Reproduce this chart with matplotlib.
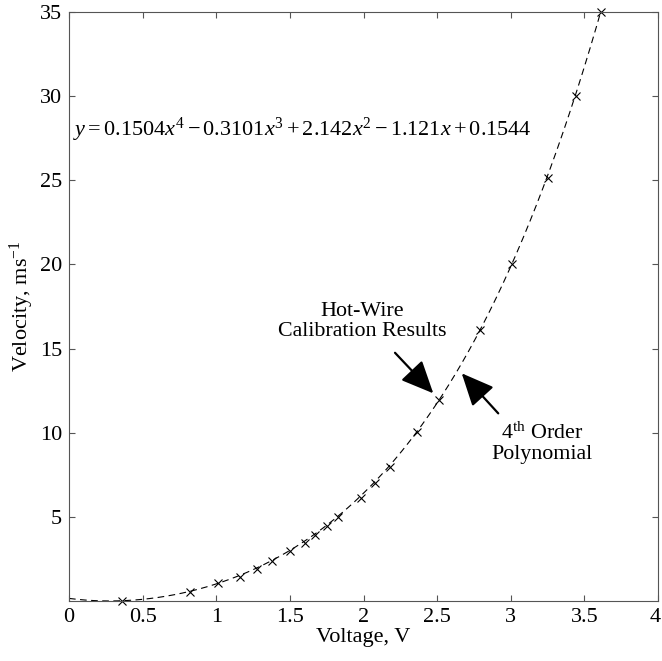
import matplotlib
matplotlib.use('Agg')
from matplotlib import pyplot as plt
from matplotlib.transforms import ScaledTranslation
import numpy as np

plt.rcParams['font.family'] = ['Liberation Serif', 'DejaVu Serif']
plt.rcParams['mathtext.fontset'] = 'custom'
plt.rcParams['mathtext.rm'] = 'Liberation Serif'
plt.rcParams['mathtext.it'] = 'Liberation Serif:italic'

# calibration points
voltage = [0.36, 0.82, 1.01, 1.16, 1.28, 1.38, 1.50, 1.60, 1.67, 1.75,
           1.83, 1.98, 2.08, 2.18, 2.36, 2.51, 2.79, 3.01, 3.25, 3.44, 3.61]
velocity = [0.0, 0.55, 1.05, 1.45, 1.9, 2.35, 2.98, 3.45, 3.93, 4.48,
            5.02, 6.1, 7.04, 7.99, 10.02, 11.96, 16.13, 20.04, 25.16, 30.02, 35.0]

# 4th order fit coefficients as printed on the chart
coeffs = [0.1504, -0.3101, 2.142, -1.121, 0.1544]

xticks = [0, 0.5, 1, 1.5, 2, 2.5, 3, 3.5, 4]
xticklabels = ['0', '0.5', '1', '1.5', '2', '2.5', '3', '3.5', '4']
yticks = [5, 10, 15, 20, 25, 30, 35]

fig = plt.figure(figsize=(6.62, 6.61), dpi=100)
fig.subplots_adjust(left=69/662, right=658/662, top=1-12/661, bottom=1-601/661)
ax = fig.add_subplot(1, 1, 1)

xs = np.linspace(0, 3.65, 400)
ax.plot(xs, np.polyval(coeffs, xs), color='black', lw=0.8, dashes=(6, 4))
ax.plot(voltage, velocity, ls='none', marker='x', color='black', ms=5.5, mew=0.8, clip_on=False)

ax.set_xlim(0, 4)
ax.set_ylim(0, 35)
ax.set_xticks(xticks)
ax.set_xticklabels(xticklabels)
ax.set_yticks(yticks)
for s in ax.spines.values():
    s.set_color('#555555')
    s.set_linewidth(0.8)
ax.tick_params(direction='in', length=4, width=0.8, color='#555555',
               top=True, right=True, labelsize=16, pad=5)

# keep the last x label inside the figure
last = ax.get_xticklabels()[-1]
last.set_transform(last.get_transform() + ScaledTranslation(-3/100, 0, fig.dpi_scale_trans))

ax.set_xlabel('Voltage, V', fontsize=16, labelpad=1)
ax.set_ylabel(r'Velocity, ms$^{\mathrm{-1}}$', fontsize=16, labelpad=3)

ax.text(0.03, 28.0, r'$y = 0.1504x^4 - 0.3101x^3 + 2.142x^2 - 1.121x + 0.1544$',
        fontsize=16, va='center', ha='left')

arrow = dict(arrowstyle='-|>,head_length=1.0,head_width=0.45', color='black',
             lw=1.6, mutation_scale=20, shrinkA=0, shrinkB=0)
ax.text(1.99, 16.6, 'Hot-Wire\nCalibration Results', fontsize=15.8,
        ha='center', va='center', linespacing=1.05)
ax.annotate('', xy=(2.474, 12.34), xytext=(2.214, 14.75), arrowprops=arrow)
ax.text(3.21, 9.36, '4$^{\\mathrm{th}}$ Order\nPolynomial', fontsize=15.8,
        ha='center', va='center', linespacing=1.05)
ax.annotate('', xy=(2.667, 13.53), xytext=(2.915, 11.15), arrowprops=arrow)

plt.savefig('out.png', dpi=100)
